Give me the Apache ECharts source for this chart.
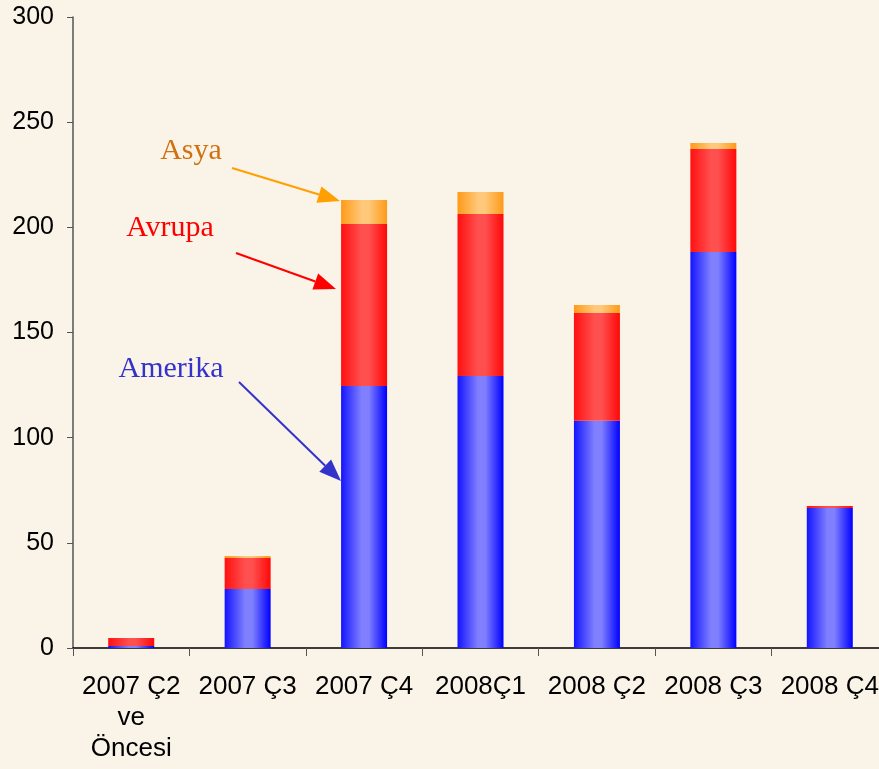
<!DOCTYPE html>
<html>
<head>
<meta charset="utf-8">
<script src="https://cdn.jsdelivr.net/npm/echarts@6/dist/echarts.min.js"></script>
<style>
  html, body { margin: 0; padding: 0; background: #faf3e8; }
  #chart { width: 879px; height: 769px; }
</style>
</head>
<body>
<div id="chart"></div>
<script>
const categories = ['2007 Ç2\nve\nÖncesi', '2007 Ç3', '2007 Ç4', '2008Ç1', '2008 Ç2', '2008 Ç3', '2008 Ç4']
const amerika = [1, 28, 124.6, 129.3, 108, 188.3, 66.6]
const avrupa = [3.7, 14.8, 77, 77, 51.3, 48.9, 0.9]
const asya = [0, 0.9, 11.4, 10.5, 3.8, 2.9, 0]
const yTicks = [0, 50, 100, 150, 200, 250, 300]

// horizontal gradient: darker edges, lighter middle
const barFill = (edgeL, mid, edgeR) => new echarts.graphic.LinearGradient(0, 0, 1, 0, [
    { offset: 0, color: edgeL },
    { offset: 0.45, color: mid },
    { offset: 0.6, color: mid },
    { offset: 1, color: edgeR }
])

// annotation arrow: shaft + filled head
function arrow (x1, y1, x2, y2, color) {
    let ang = Math.atan2(y2 - y1, x2 - x1)
    let len = 22, half = 8.5
    let bx = x2 - len * Math.cos(ang), by = y2 - len * Math.sin(ang)
    let px = -Math.sin(ang) * half, py = Math.cos(ang) * half
    return [
        { type: 'line', shape: { x1, y1, x2: bx, y2: by }, style: { stroke: color, lineWidth: 2 } },
        { type: 'polygon', shape: { points: [[x2, y2], [bx + px, by + py], [bx - px, by - py]] }, style: { fill: color } }
    ]
}

const label = (text, x, y, color) => ({
    type: 'text', x, y,
    style: { text, fill: color, font: '30px "Liberation Serif", "Times New Roman", serif', align: 'center', verticalAlign: 'middle' }
})

const chart = echarts.init(document.getElementById('chart'))

chart.setOption({
    backgroundColor: '#faf3e8',
    animation: false,
    grid: { left: 73, right: -9, top: 17, bottom: 121, containLabel: false, outerBoundsMode: 'none' },
    xAxis: {
        type: 'category',
        data: categories,
        axisLine: { lineStyle: { color: '#000', width: 1.5 } },
        axisTick: { show: true, length: 8, lineStyle: { color: '#555' } },
        axisLabel: { color: '#000', fontSize: 26, fontFamily: 'Liberation Sans, Arial, sans-serif', lineHeight: 31, margin: 23, interval: 0 }
    },
    yAxis: {
        type: 'value',
        min: yTicks[0],
        max: yTicks[yTicks.length - 1],
        interval: 50,
        splitLine: { show: false },
        axisLine: { show: true, lineStyle: { color: '#555', width: 1.5 } },
        axisTick: { show: true, length: 6, lineStyle: { color: '#555' } },
        axisLabel: { color: '#000', fontSize: 25, fontFamily: 'Liberation Sans, Arial, sans-serif', margin: 19 }
    },
    series: [
        {
            name: 'Amerika', type: 'bar', stack: 'total', barWidth: 46, data: amerika,
            itemStyle: { color: barFill('#1414ff', '#8080ff', '#0000ff') }
        },
        {
            name: 'Avrupa', type: 'bar', stack: 'total', barWidth: 46, data: avrupa,
            itemStyle: { color: barFill('#ff1010', '#ff5050', '#ff0808') }
        },
        {
            name: 'Asya', type: 'bar', stack: 'total', barWidth: 46, data: asya,
            itemStyle: { color: barFill('#ff9a18', '#ffc87a', '#ff9a18') }
        }
    ],
    graphic: [
        label('Asya', 191, 151, '#d2700f'),
        ...arrow(232, 168, 340, 201, '#ff9f00'),
        label('Avrupa', 170, 228, '#ff0000'),
        ...arrow(236, 253, 336, 289, '#ff0000'),
        label('Amerika', 171, 369, '#3333cc'),
        ...arrow(239, 382, 341, 481, '#3333cc')
    ]
})
</script>
</body>
</html>
